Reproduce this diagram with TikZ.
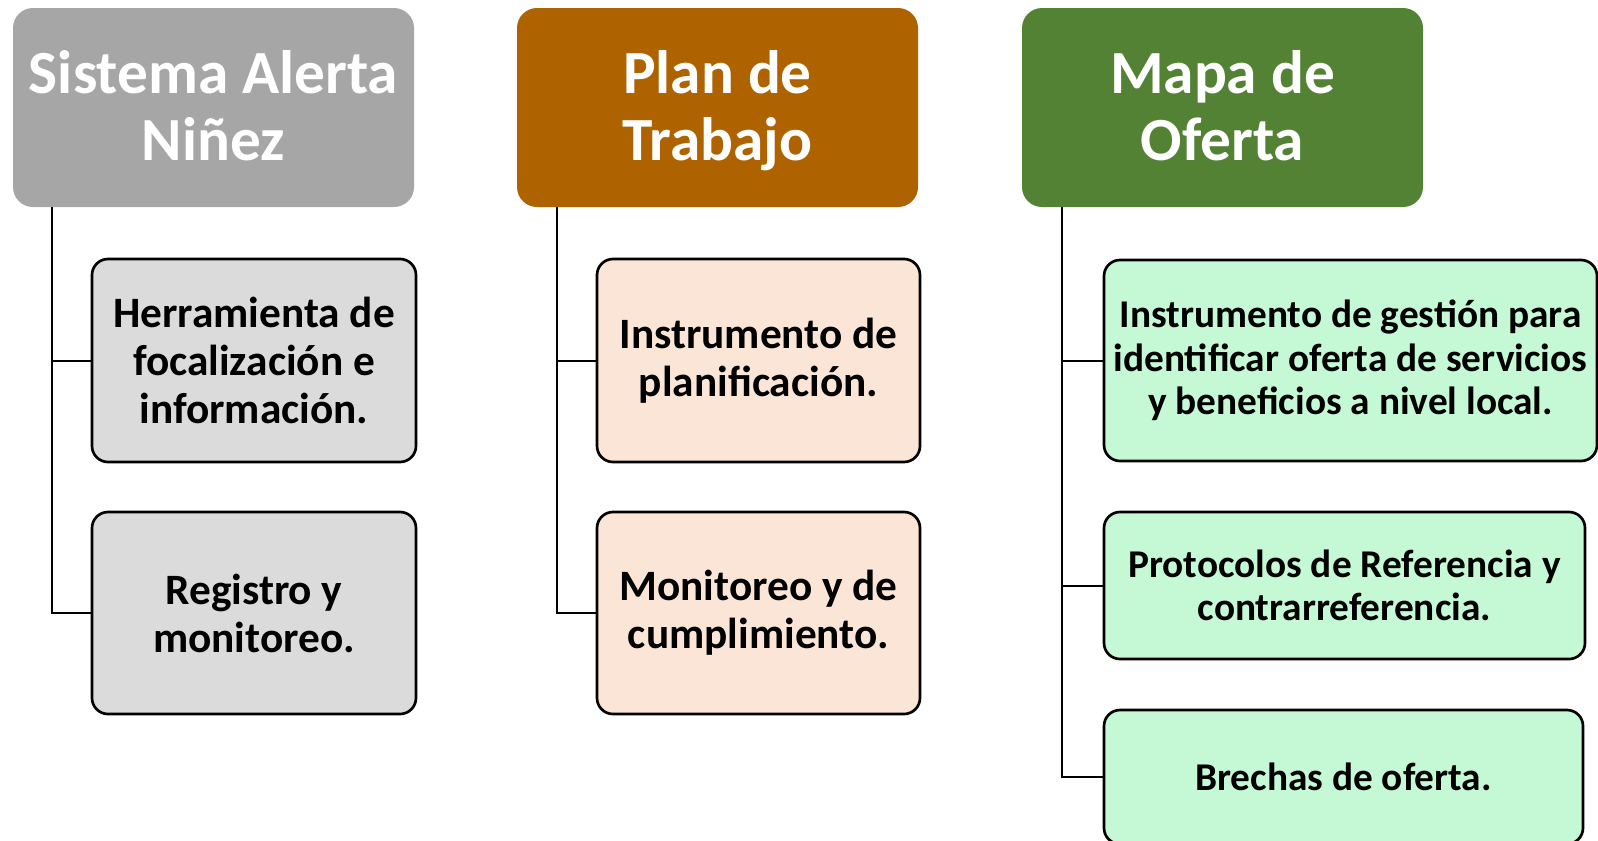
\documentclass[tikz,border=0pt]{standalone}
\usepackage{fontspec}
\setmainfont{Carlito}
\usepackage{xcolor}
\usepackage{tikz}
\usetikzlibrary{positioning}

\definecolor{grisTit}{HTML}{A6A6A6}
\definecolor{cafeTit}{HTML}{AE6300}
\definecolor{verdeTit}{HTML}{548235}
\definecolor{grisCaja}{HTML}{DBDBDB}
\definecolor{cafeCaja}{HTML}{FBE5D6}
\definecolor{verdeCaja}{HTML}{C5F8D5}

\begin{document}
\begin{tikzpicture}[x=0.75pt,y=0.75pt,yscale=-1,xscale=1,
  titulo/.style={rounded corners=15pt,minimum width=300.75pt,minimum height=149.25pt,
    text=white,align=center,font=\fontsize{46}{50.5}\selectfont\bfseries},
  caja/.style={draw=black,line width=2pt,rounded corners=12pt,align=center,
    font=\fontsize{32.5}{36}\selectfont\bfseries},
  cajav/.style={caja,font=\fontsize{29.5}{32.6}\selectfont\bfseries},
  rama/.style={line width=1.5pt}]
\useasboundingbox (0,0) rectangle (1598,840);

%Titulos
\node [titulo,fill=grisTit] (sis) at (213.5,107.5) {\vphantom{Ñ}Sistema Alerta\\Niñez\vphantom{j}};
\node [titulo,fill=cafeTit] (plan) at (717.5,107.5) {\vphantom{Ñ}Plan de\\Trabajo};
\node [titulo,fill=verdeTit] (mapa) at (1222.5,107.5) {\vphantom{Ñ}Mapa de\\Oferta\vphantom{j}};

%Cajas Sistema Alerta Niñez
\node [caja,fill=grisCaja,minimum width=243pt,minimum height=152.25pt] (sis1) at (254,360.5)
  {Herramienta de\\focalización e\\información.};
\node [caja,fill=grisCaja,minimum width=243pt,minimum height=151.5pt] (sis2) at (254,613)
  {Registro y\\monitoreo.};

%Cajas Plan de Trabajo
\node [caja,fill=cafeCaja,minimum width=242.25pt,minimum height=152.25pt] (plan1) at (758.5,360.5)
  {Instrumento de\\planificación.};
\node [caja,fill=cafeCaja,minimum width=242.25pt,minimum height=151.5pt] (plan2) at (758.5,613)
  {Monitoreo y de\\cumplimiento.};

%Cajas Mapa de Oferta
\node [cajav,fill=verdeCaja,minimum width=369.75pt,minimum height=150.75pt] (mapa1) at (1350.5,360.5)
  {Instrumento de gestión para\\identificar oferta de servicios\\y beneficios a nivel local.};
\node [cajav,fill=verdeCaja,minimum width=360.75pt,minimum height=110.25pt] (mapa2) at (1344.5,585.5)
  {Protocolos de Referencia y\\contrarreferencia.};
\node [cajav,fill=verdeCaja,minimum width=359.25pt,minimum height=100.5pt] (mapa3) at (1343.5,777)
  {Brechas de oferta.};

%Ramas
\coordinate (sisT) at (52,207);
\coordinate (planT) at (557,207);
\coordinate (mapaT) at (1062,207);
\draw [rama] (sisT) |- (sis1.west);
\draw [rama] (sisT) |- (sis2.west);
\draw [rama] (planT) |- (plan1.west);
\draw [rama] (planT) |- (plan2.west);
\draw [rama] (mapaT) |- (mapa1.west);
\draw [rama] (mapaT) |- (mapa2.west);
\draw [rama] (mapaT) |- (mapa3.west);

\end{tikzpicture}
\end{document}
